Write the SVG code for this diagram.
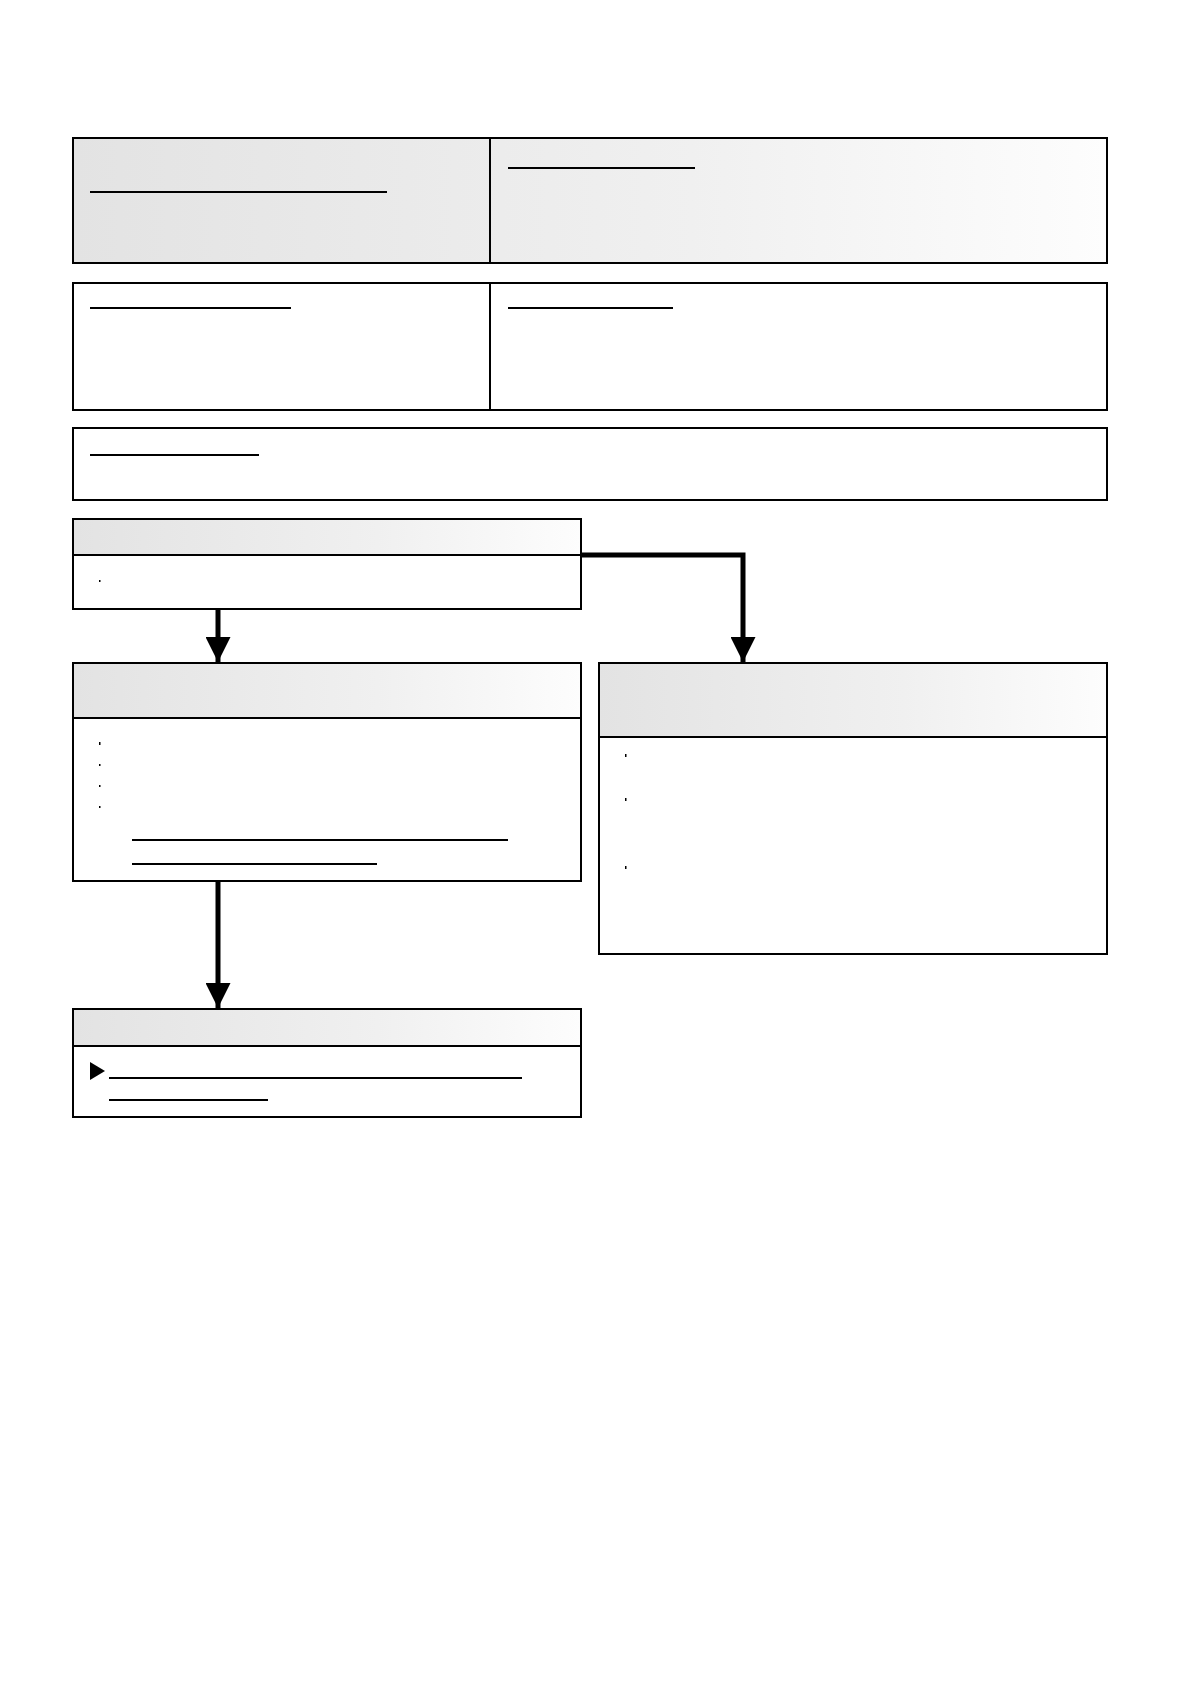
<svg xmlns="http://www.w3.org/2000/svg" width="1192" height="1684" viewBox="0 0 1192 1684">
<defs>
<linearGradient id="g" x1="0" y1="0" x2="1" y2="0"><stop offset="0" stop-color="#e3e3e3"/><stop offset="0.6" stop-color="#f0f0f0"/><stop offset="1" stop-color="#fdfdfd"/></linearGradient>
<marker id="ah" viewBox="0 0 10 10" refX="10" refY="5" markerWidth="5" markerHeight="5" markerUnits="strokeWidth" orient="auto"><path d="M0,0L10,5L0,10z" fill="#000"/></marker>
</defs>
<style>
.b{fill:#fff;stroke:#000;stroke-width:2}
.h{fill:url(#g);stroke:#000;stroke-width:2}
.u{stroke:#000;stroke-width:2}
.c{fill:none;stroke:#000;stroke-width:5;marker-end:url(#ah)}
.d{fill:#000}
</style>
<rect width="1192" height="1684" fill="#fff"/>
<g id="top1"><rect class="h" x="73" y="138" width="1034" height="125"/><line class="u" x1="490" y1="138" x2="490" y2="263"/><line class="u" x1="90" y1="192" x2="387" y2="192"/><line class="u" x1="508" y1="168" x2="695" y2="168"/></g>
<g id="top2"><rect class="b" x="73" y="283" width="1034" height="127"/><line class="u" x1="490" y1="283" x2="490" y2="410"/><line class="u" x1="90" y1="308" x2="291" y2="308"/><line class="u" x1="508" y1="308" x2="673" y2="308"/></g>
<g id="top3"><rect class="b" x="73" y="428" width="1034" height="72"/><line class="u" x1="90" y1="455" x2="259" y2="455"/></g>
<g id="nodeA"><rect class="b" x="73" y="519" width="508" height="90"/><rect class="h" x="73" y="519" width="508" height="36"/><rect class="d" x="99" y="580" width="1.5" height="2"/></g>
<g id="nodeB"><rect class="b" x="73" y="663" width="508" height="218"/><rect class="h" x="73" y="663" width="508" height="55"/><rect class="d" x="99" y="742" width="1.5" height="3"/><rect class="d" x="99" y="764" width="1.5" height="2"/><rect class="d" x="99" y="785" width="1.5" height="2"/><rect class="d" x="99" y="806" width="1.5" height="2"/><line class="u" x1="132" y1="840" x2="508" y2="840"/><line class="u" x1="132" y1="864" x2="377" y2="864"/></g>
<g id="nodeC"><rect class="b" x="599" y="663" width="508" height="291"/><rect class="h" x="599" y="663" width="508" height="74"/><rect class="d" x="625" y="754" width="1.5" height="3"/><rect class="d" x="625" y="798" width="1.5" height="3"/><rect class="d" x="625" y="866" width="1.5" height="3"/></g>
<g id="nodeD"><rect class="b" x="73" y="1009" width="508" height="108"/><rect class="h" x="73" y="1009" width="508" height="37"/><path class="d" d="M90,1062L105,1071L90,1080z"/><line class="u" x1="109" y1="1078" x2="522" y2="1078"/><line class="u" x1="109" y1="1100" x2="268" y2="1100"/></g>
<g id="connectors">
<path class="c" d="M218,609V662"/>
<path class="c" d="M581,555H743V662"/>
<path class="c" d="M218,881V1008"/>
</g>
</svg>
